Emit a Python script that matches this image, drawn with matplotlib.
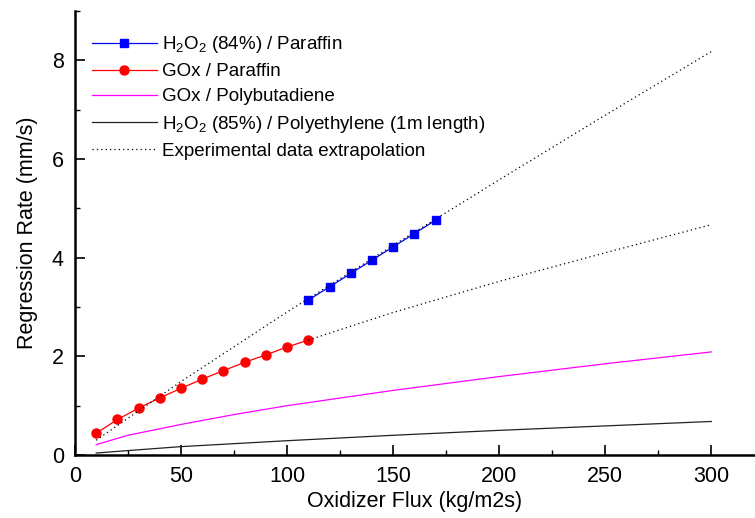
import matplotlib.pyplot as plt
from matplotlib.ticker import MultipleLocator

plt.rcParams["font.family"] = ["Liberation Sans", "DejaVu Sans"]
plt.rcParams["mathtext.fontset"] = "custom"
plt.rcParams["mathtext.rm"] = "Liberation Sans"
plt.rcParams["mathtext.it"] = "Liberation Sans"

# measured points
flux_h2o2 = [110, 120, 130, 140, 150, 160, 170]
rate_h2o2 = [3.14, 3.41, 3.68, 3.95, 4.22, 4.49, 4.76]

flux_gox = [10, 20, 30, 40, 50, 60, 70, 80, 90, 100, 110]
rate_gox = [0.44, 0.72, 0.95, 1.16, 1.35, 1.54, 1.71, 1.88, 2.03, 2.19, 2.33]

# reference curves
flux_curve = [10, 25, 50, 75, 100, 150, 200, 250, 300]
rate_pb = [0.21, 0.40, 0.62, 0.82, 1.00, 1.31, 1.59, 1.85, 2.09]
rate_pe = [0.04, 0.09, 0.17, 0.23, 0.29, 0.40, 0.50, 0.59, 0.68]

# extrapolations
flux_ext1 = [10, 50, 100, 150, 200, 250, 300]
rate_ext1 = [0.30, 1.49, 2.90, 4.25, 5.58, 6.89, 8.18]
flux_ext2 = [110, 150, 200, 250, 300]
rate_ext2 = [2.33, 2.89, 3.52, 4.10, 4.67]

fig = plt.figure(figsize=(7.55, 5.18), dpi=100)
ax = fig.add_axes([0.0993, 0.1216, 0.899, 0.857])

ax.plot(flux_h2o2, rate_h2o2, color="#0000ff", lw=0.9, marker="s", ms=5.5,
        label="H$_2$O$_2$ (84%) / Paraffin")
ax.plot(flux_gox, rate_gox, color="#ff0000", lw=0.9, marker="o", ms=6.5,
        label="GOx / Paraffin")
ax.plot(flux_curve, rate_pb, color="#ff00ff", lw=0.9, label="GOx / Polybutadiene")
ax.plot(flux_curve, rate_pe, color="#222222", lw=0.9,
        label="H$_2$O$_2$ (85%) / Polyethylene (1m length)")
ax.plot(flux_ext1, rate_ext1, color="black", lw=0.9, ls=(0, (1, 2.5)),
        label="Experimental data extrapolation")
ax.plot(flux_ext2, rate_ext2, color="black", lw=0.9, ls=(0, (1, 2.5)))

ax.set_xlim(0, 320)
ax.set_ylim(0, 9)
ax.set_xticks([0, 50, 100, 150, 200, 250, 300])
ax.xaxis.set_minor_locator(MultipleLocator(25))
ax.yaxis.set_major_locator(MultipleLocator(2))
ax.yaxis.set_minor_locator(MultipleLocator(1))

for s in ["top", "right"]:
    ax.spines[s].set_visible(False)
for s in ["left", "bottom"]:
    ax.spines[s].set_linewidth(1.8)

ax.tick_params(which="major", direction="in", length=7, width=1.2,
               labelsize=15.5, pad=8)
ax.tick_params(which="minor", direction="in", length=3.5, width=1.0)

ax.set_xlabel("Oxidizer Flux (kg/m2s)", fontsize=15.5, labelpad=3)
ax.set_ylabel("Regression Rate (mm/s)", fontsize=15.5, labelpad=10)

ax.legend(loc="upper left", frameon=False, fontsize=13.5, handlelength=3.45,
          handletextpad=0.28, labelspacing=0.43, borderaxespad=0.0,
          bbox_to_anchor=(0.014, 0.965))

fig.savefig("out.png", dpi=100)
